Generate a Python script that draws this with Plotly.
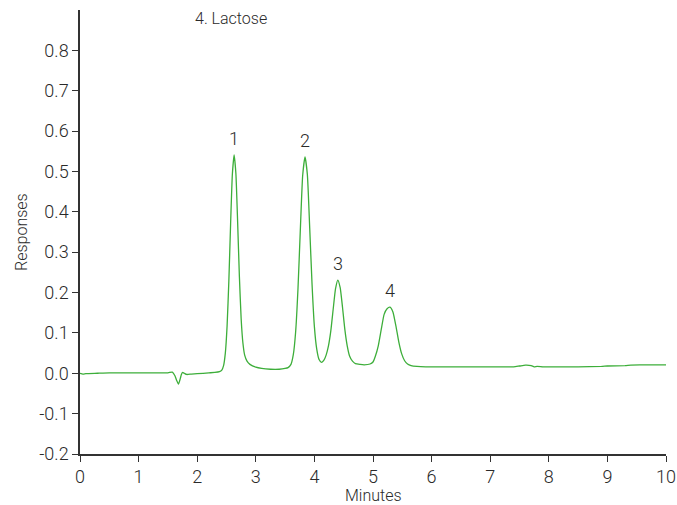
import plotly.graph_objects as go

# Chromatogram trace: retention time (min) and detector response
time_min = [
    0.00, 0.05, 0.10, 0.30, 0.50, 1.00, 1.50, 1.575, 1.62, 1.65, 1.68, 1.71, 1.73, 1.75,
    1.78, 1.82, 1.90, 2.00, 2.20, 2.30, 2.38, 2.42, 2.45, 2.48, 2.51, 2.54, 2.57,
    2.60, 2.63, 2.66, 2.69, 2.72, 2.75, 2.78, 2.81, 2.85, 2.90, 3.00, 3.10, 3.25,
    3.40, 3.50, 3.55, 3.60, 3.64, 3.68, 3.72, 3.76, 3.80, 3.84, 3.88, 3.92, 3.96,
    4.00, 4.04, 4.08, 4.12, 4.16, 4.20, 4.24, 4.28, 4.32, 4.36, 4.40, 4.44, 4.48,
    4.52, 4.56, 4.60, 4.65, 4.70, 4.78, 4.85, 4.95, 5.00, 5.04, 5.09, 5.14, 5.19,
    5.24, 5.29, 5.34, 5.39, 5.44, 5.49, 5.54, 5.59, 5.65, 5.75, 5.90, 6.00, 6.50,
    7.00, 7.40, 7.50, 7.60, 7.70, 7.75, 7.80, 7.90, 8.00, 8.50, 8.90, 9.00, 9.30,
    9.40, 9.70, 10.00,
]
response = [
    0.000, -0.002, -0.001, 0.000, 0.001, 0.001, 0.001, 0.003, -0.006, -0.018, -0.027, -0.014, -0.003, 0.002,
    0.000, -0.003, -0.002, -0.001, 0.001, 0.002, 0.004, 0.008, 0.019, 0.050, 0.117, 0.228, 0.370,
    0.493, 0.541, 0.495, 0.375, 0.240, 0.135, 0.075, 0.045, 0.030, 0.022, 0.015, 0.012, 0.010,
    0.010, 0.012, 0.014, 0.022, 0.046, 0.103, 0.210, 0.356, 0.490, 0.536, 0.492, 0.360, 0.220,
    0.115, 0.060, 0.034, 0.027, 0.032, 0.045, 0.068, 0.105, 0.158, 0.209, 0.231, 0.212, 0.163,
    0.108, 0.068, 0.043, 0.030, 0.024, 0.022, 0.021, 0.023, 0.028, 0.042, 0.068, 0.108, 0.146,
    0.160, 0.164, 0.152, 0.118, 0.078, 0.048, 0.031, 0.023, 0.019, 0.017, 0.016, 0.016, 0.016,
    0.016, 0.016, 0.018, 0.020, 0.019, 0.016, 0.017, 0.016, 0.016, 0.016, 0.017, 0.018, 0.019,
    0.020, 0.021, 0.021,
]

# Labelled peaks
peak_labels = ["1", "2", "3", "4"]
peak_times = [2.63, 3.84, 4.40, 5.29]
peak_heights = [0.541, 0.536, 0.231, 0.164]

x_ticks = list(range(0, 11))
y_ticks = [-0.2, -0.1, 0.0, 0.1, 0.2, 0.3, 0.4, 0.5, 0.6, 0.7, 0.8]
y_tick_text = ["-0.2", "-0.1", "0.0", "0.1", "0.2", "0.3", "0.4", "0.5", "0.6", "0.7", "0.8"]

FONT = "Roboto, Liberation Sans, sans-serif"
TEXT_COLOR = "#2a2a2a"
AXIS_COLOR = "#333333"

fig = go.Figure()
fig.add_trace(go.Scatter(
    x=time_min, y=response, mode="lines",
    line=dict(color="#3dae3a", width=1.3, shape="spline", smoothing=0.5),
    hoverinfo="skip", showlegend=False,
))

for lab, t, h in zip(peak_labels, peak_times, peak_heights):
    fig.add_annotation(x=t, y=h, text=lab, showarrow=False, xanchor="center",
                       yanchor="bottom", yshift=4,
                       font=dict(family=FONT, size=18, color=TEXT_COLOR, weight=300))

fig.add_annotation(xref="paper", yref="paper", x=0.258, y=1.0, text="4. Lactose",
                   showarrow=False, xanchor="center", yanchor="top", yshift=3,
                   font=dict(family=FONT, size=16, color=TEXT_COLOR, weight=300))

# Axis titles placed as paper annotations so the plot box keeps fixed margins
fig.add_annotation(xref="paper", yref="paper", x=0.5, y=0, yshift=-31,
                   text="Minutes", showarrow=False, xanchor="center", yanchor="top",
                   borderpad=0,
                   font=dict(family=FONT, size=16, color=TEXT_COLOR, weight=300))
fig.add_annotation(xref="paper", yref="paper", x=0, xshift=-59, y=0.5,
                   text="Responses", showarrow=False, textangle=-90,
                   xanchor="center", yanchor="middle",
                   font=dict(family=FONT, size=16, color=TEXT_COLOR, weight=300))

fig.update_layout(
    width=677, height=505,
    margin=dict(l=80, r=11, t=10, b=51, autoexpand=False),
    paper_bgcolor="white", plot_bgcolor="white",
    font=dict(family=FONT, size=18, color=TEXT_COLOR, weight=300),
    xaxis=dict(
        range=[0, 10], tickvals=x_ticks, ticks="outside", ticklen=6, tickwidth=1.3,
        tickcolor=AXIS_COLOR, showline=True, linecolor=AXIS_COLOR, linewidth=1.5,
        showgrid=False, zeroline=False, automargin=False,
        tickfont=dict(family=FONT, size=18, color=TEXT_COLOR, weight=300),
    ),
    yaxis=dict(
        range=[-0.2, 0.9], tickvals=y_ticks, ticktext=y_tick_text, ticks="outside",
        ticklen=6, tickwidth=1.3, tickcolor=AXIS_COLOR, showline=True,
        linecolor=AXIS_COLOR, linewidth=1.5, showgrid=False, zeroline=False,
        automargin=False,
        tickfont=dict(family=FONT, size=18, color=TEXT_COLOR, weight=300),
    ),
)

fig.write_html(
    "out.html",
    post_script="document.body.style.margin='0';"
                "document.documentElement.style.overflow='hidden';",
)
